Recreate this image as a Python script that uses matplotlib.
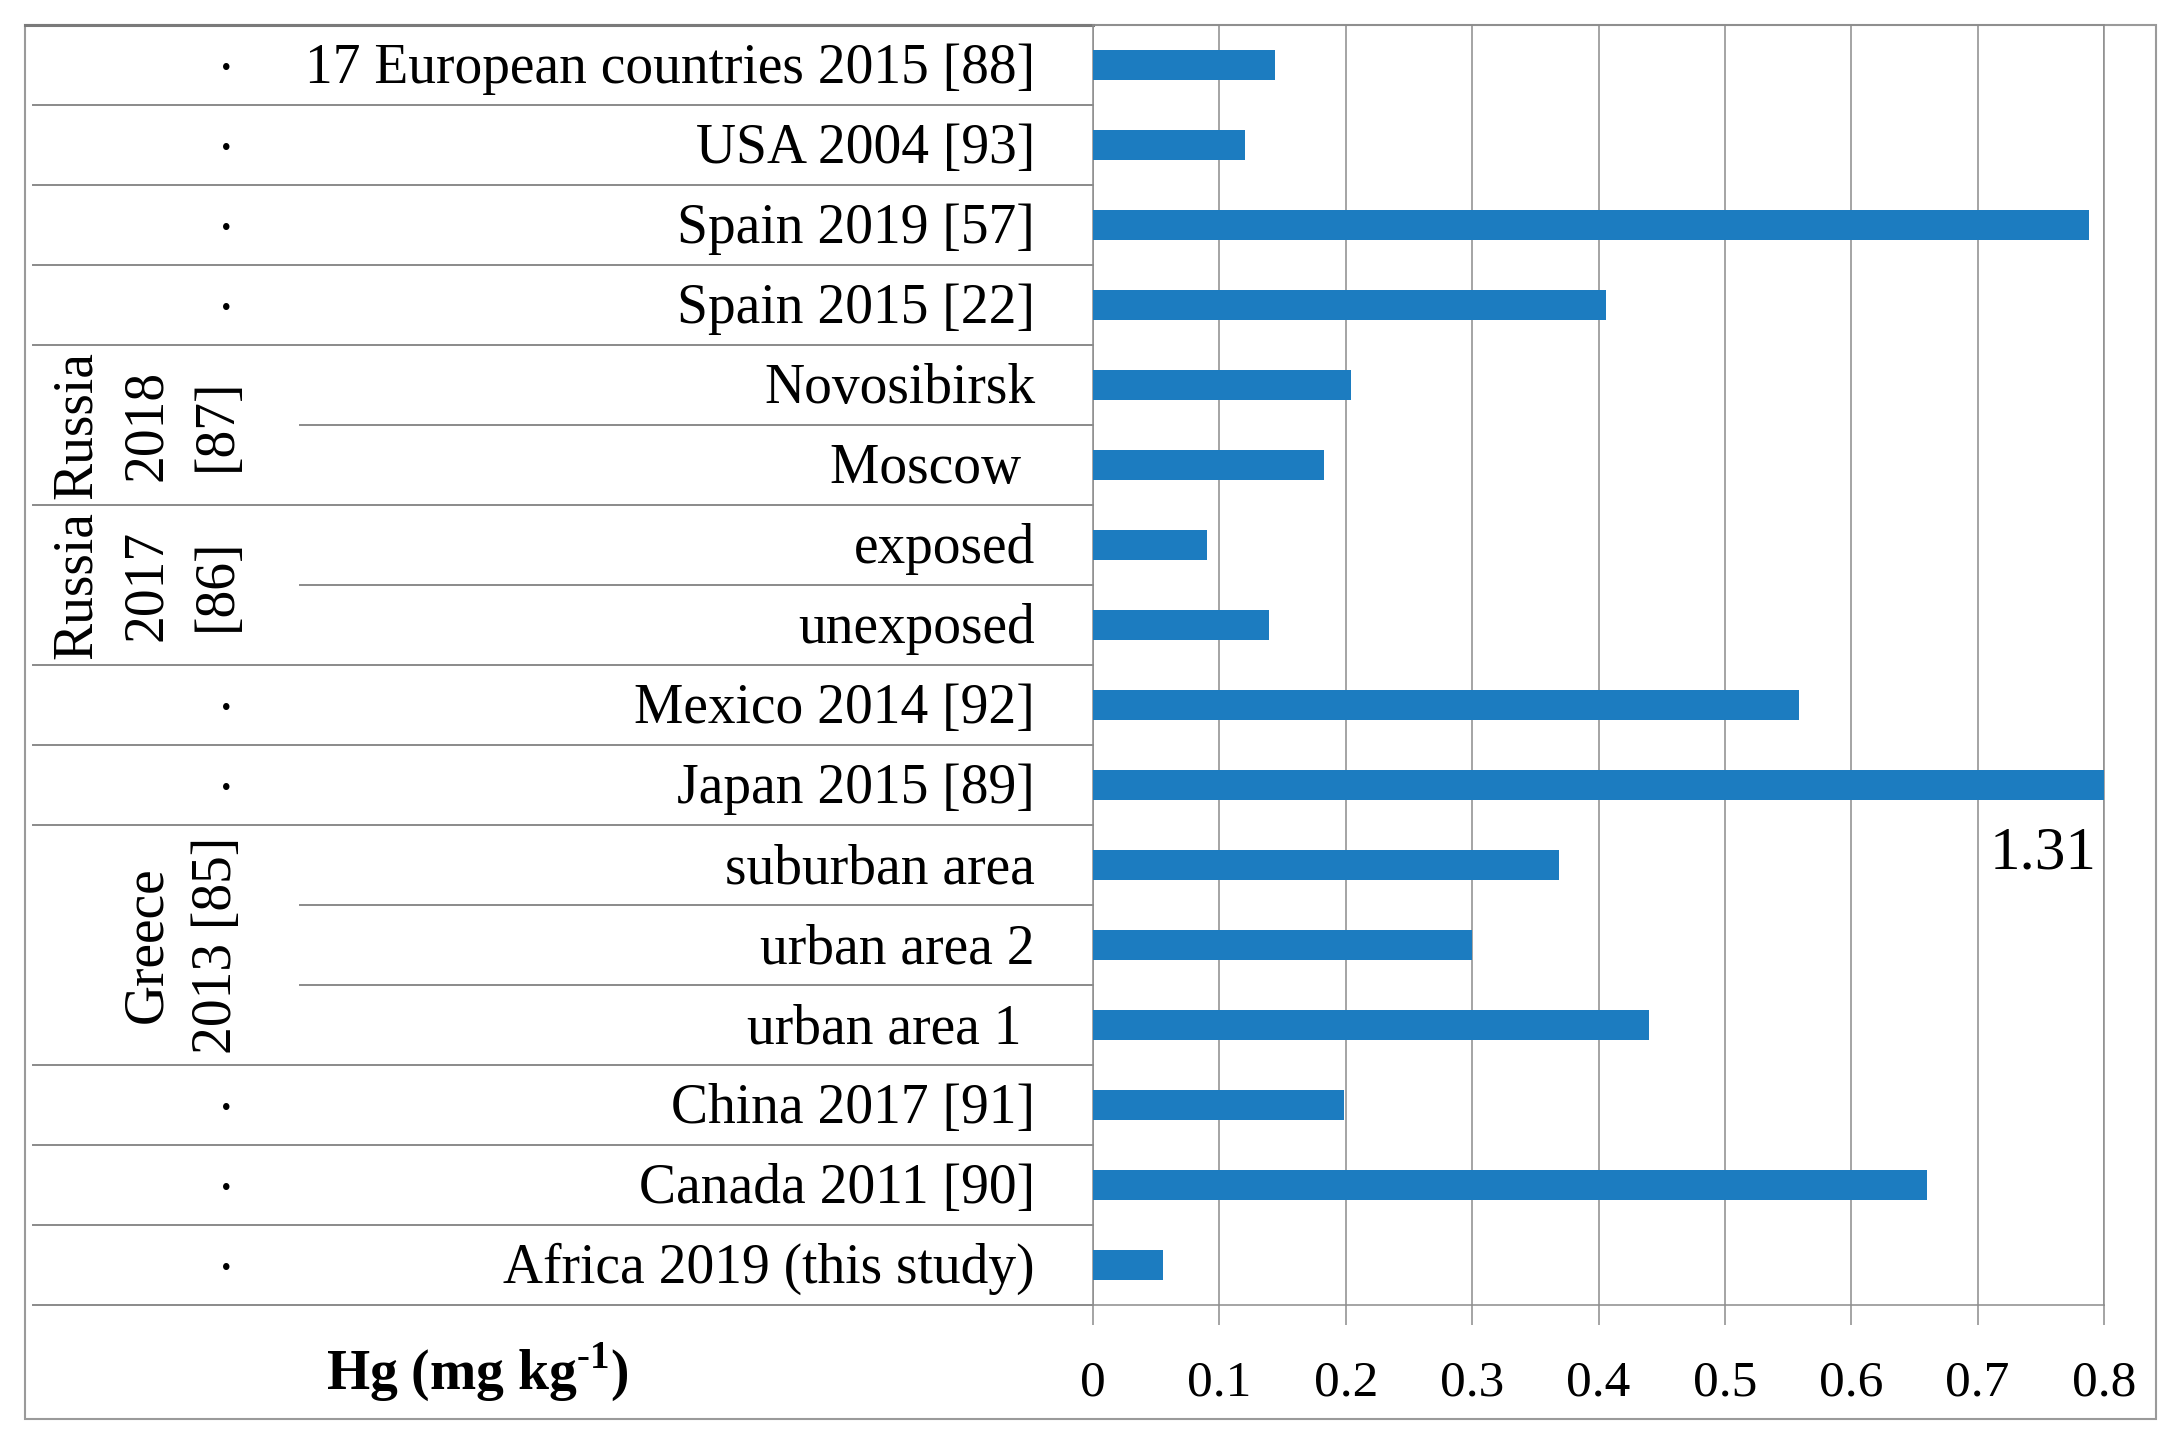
import numpy as np
import matplotlib
matplotlib.use("Agg")
import matplotlib.pyplot as plt
from matplotlib.patches import Rectangle

# ---------------- data ----------------
categories = ["17 European countries 2015 [88]", "USA 2004 [93]", "Spain 2019 [57]",
              "Spain 2015 [22]", "Novosibirsk", "Moscow ", "exposed", "unexposed",
              "Mexico 2014 [92]", "Japan 2015 [89]", "suburban area", "urban area 2",
              "urban area 1 ", "China 2017 [91]", "Canada 2011 [90]",
              "Africa 2019 (this study)"]
values = [0.144, 0.12, 0.788, 0.406, 0.204, 0.183, 0.09, 0.139,
          0.559, 1.31, 0.369, 0.30, 0.44, 0.199, 0.66, 0.055]
# rows that belong to a group (no bullet); group labels: (first row, last row, texts per column)
group_rows = [(4, 5, ["Russia", "2018", "[87]"]),
              (6, 7, ["Russia", "2017", "[86]"]),
              (10, 12, [None, "Greece", "2013 [85]"])]
clipped_label = "1.31"
clipped_row = 9
xticks = [0, 0.1, 0.2, 0.3, 0.4, 0.5, 0.6, 0.7, 0.8]
xtick_labels = ["0", "0.1", "0.2", "0.3", "0.4", "0.5", "0.6", "0.7", "0.8"]
xlabel = r"Hg (mg kg$^{\text{-}\mathbf{1}}$)"

# ---------------- style ----------------
plt.rcParams['font.family'] = ['Liberation Serif', 'DejaVu Serif']
plt.rcParams['mathtext.fontset'] = 'custom'
plt.rcParams['mathtext.rm'] = 'Liberation Serif:bold'
plt.rcParams['mathtext.bf'] = 'Liberation Serif:bold'

W, H = 2175, 1451
BAR = '#1c7cc0'
GRID = '#8c8c8c'
LINE = '#8a8a8a'
FS = 40

X0, X8 = 1093, 2104      # pixel x of 0 and 0.8
YT, YB = 25, 1305        # top / bottom of the rows
n = len(categories)
rowh = (YB - YT) / n

fig = plt.figure(figsize=(W / 100, H / 100), dpi=100)
fig.patch.set_facecolor('white')

over = fig.add_axes([0, 0, 1, 1])
over.set_xlim(0, W)
over.set_ylim(H, 0)
over.axis('off')

ax = fig.add_axes([X0 / W, 1 - YB / H, (X8 - X0) / W, (YB - YT) / H])
ax.set_facecolor('none')
ax.barh(np.arange(n), values, height=0.375, color=BAR, zorder=3)
ax.set_ylim(n - 0.5, -0.5)
ax.set_xlim(0, 0.8)
ax.set_xticks(xticks)
ax.set_xticklabels(xtick_labels, fontsize=37)
ax.set_yticks([])
ax.grid(axis='x', color=GRID, lw=1.1)
ax.set_axisbelow(True)
ax.tick_params(axis='x', length=14.4, width=1.1, color=GRID, pad=25, direction='out')
for s in ax.spines.values():
    s.set_color(GRID)
    s.set_linewidth(1.1)

# label for the clipped bar
ax.text(0.752, clipped_row + 1.04, clipped_label, ha='center', va='baseline',
        fontsize=44, color='black')

# ---------------- table structure ----------------
over.add_patch(Rectangle((25, 25), 2156 - 25, 1419 - 25, fill=False,
                         edgecolor='#9a9a9a', lw=1.5))
over.plot([25, X0], [YT, YT], color='#7a7a7a', lw=2.2)

grouped = set()
inner_lines = set()
for a, b, _ in group_rows:
    for r in range(a, b + 1):
        grouped.add(r)
    for r in range(a + 1, b + 1):
        inner_lines.add(r)

for k in range(1, n + 1):
    y = YT + rowh * k
    xs = 300 if k in inner_lines else 33
    over.plot([xs, X0], [y, y], color=LINE, lw=1.4)

for i, lab in enumerate(categories):
    yc = YT + rowh * (i + 0.5)
    over.text(1035, yc + 18, lab, ha='right', va='baseline', fontsize=FS)
    if i not in grouped:
        over.text(226, yc + 7, "·", ha='center', va='center', fontsize=FS)

col_baseline = [91, 161, 231]
for a, b, texts in group_rows:
    yc = YT + rowh * ((a + b + 1) / 2)
    for x, t in zip(col_baseline, texts):
        if t:
            over.text(x, yc, t, rotation=90, rotation_mode='anchor',
                      ha='center', va='baseline', fontsize=FS)

over.text(477, 1390, xlabel, ha='center', va='baseline', fontsize=FS,
          fontweight='bold')

fig.savefig("out.png", dpi=100, facecolor='white')
